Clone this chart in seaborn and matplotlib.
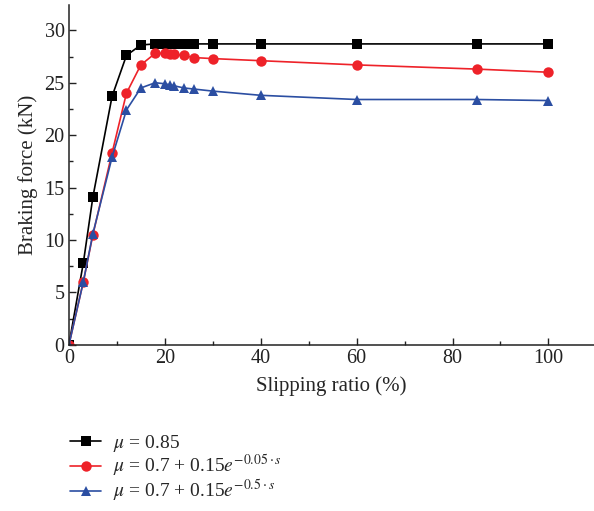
import matplotlib
matplotlib.use("Agg")
import matplotlib.pyplot as plt
import seaborn as sns
import pandas as pd
from matplotlib.ticker import MultipleLocator

slip = [0, 3, 5, 9, 12, 15, 18, 20, 21, 22, 24, 26, 30, 40, 60, 85, 100]
force_const = [0, 7.8, 14.1, 23.7, 27.6, 28.6, 28.7, 28.7, 28.7, 28.7, 28.7, 28.7, 28.7, 28.7, 28.7, 28.7, 28.7]
force_exp005 = [0, 6.0, 10.5, 18.3, 24.0, 26.7, 27.8, 27.8, 27.7, 27.7, 27.6, 27.4, 27.3, 27.1, 26.7, 26.3, 26.0]
force_exp05 = [0, 6.0, 10.6, 17.9, 22.4, 24.5, 25.0, 24.9, 24.8, 24.7, 24.5, 24.4, 24.2, 23.8, 23.4, 23.4, 23.3]
labels = [r"$\mathit{\mu}$ = 0.85",
          r"$\mathit{\mu}$ = 0.7 + 0.15$\mathit{e}^{-0.05\cdot \mathit{s}}$",
          r"$\mathit{\mu}$ = 0.7 + 0.15$\mathit{e}^{-0.5\cdot \mathit{s}}$"]

df = pd.concat([
    pd.DataFrame({"slip": slip, "force": force_const, "model": labels[0]}),
    pd.DataFrame({"slip": slip, "force": force_exp005, "model": labels[1]}),
    pd.DataFrame({"slip": slip, "force": force_exp05, "model": labels[2]}),
])

sns.set_style("ticks")
plt.rcParams["font.family"] = ["Liberation Serif", "DejaVu Serif"]
plt.rcParams["mathtext.fontset"] = "stix"

fig = plt.figure(figsize=(5.94, 5.11), dpi=100)
ax = fig.add_axes([0.116, 0.325, 0.884, 0.665])

palette = {labels[0]: "#000000", labels[1]: "#EE2229", labels[2]: "#2B4EA2"}
markers = {labels[0]: "s", labels[1]: "o", labels[2]: "^"}
sns.lineplot(data=df, x="slip", y="force", hue="model", style="model",
             palette=palette, markers=markers, dashes=False, ax=ax,
             linewidth=1.2, markersize=7.5, markeredgewidth=0, legend=True,
             sort=False)

ax.set_xlim(0, 109.5)
ax.set_ylim(0, 32.4)
ax.xaxis.set_major_locator(MultipleLocator(20))
ax.xaxis.set_minor_locator(MultipleLocator(10))
ax.yaxis.set_major_locator(MultipleLocator(5))
ax.yaxis.set_minor_locator(MultipleLocator(2.5))
ax.tick_params(which="both", direction="in", labelsize=14.5, colors="#222222")
ax.tick_params(which="major", length=5, width=1, pad=3)
ax.tick_params(which="minor", length=3, width=1)
for s in ["top", "right"]:
    ax.spines[s].set_visible(False)
for s in ["left", "bottom"]:
    ax.spines[s].set_linewidth(1.1)
    ax.spines[s].set_color("#222222")
ax.set_xlabel("Slipping ratio (%)", fontsize=15, labelpad=6)
ax.set_ylabel("Braking force (kN)", fontsize=15, labelpad=5)

handles, labs = ax.get_legend_handles_labels()
ax.legend(handles, labs, loc="upper left", bbox_to_anchor=(0.102, 0.172),
          bbox_transform=fig.transFigure, frameon=False, fontsize=14,
          handlelength=1.6, labelspacing=-0.05, handletextpad=0.6, borderpad=0)

fig.savefig("out.png", dpi=100)
